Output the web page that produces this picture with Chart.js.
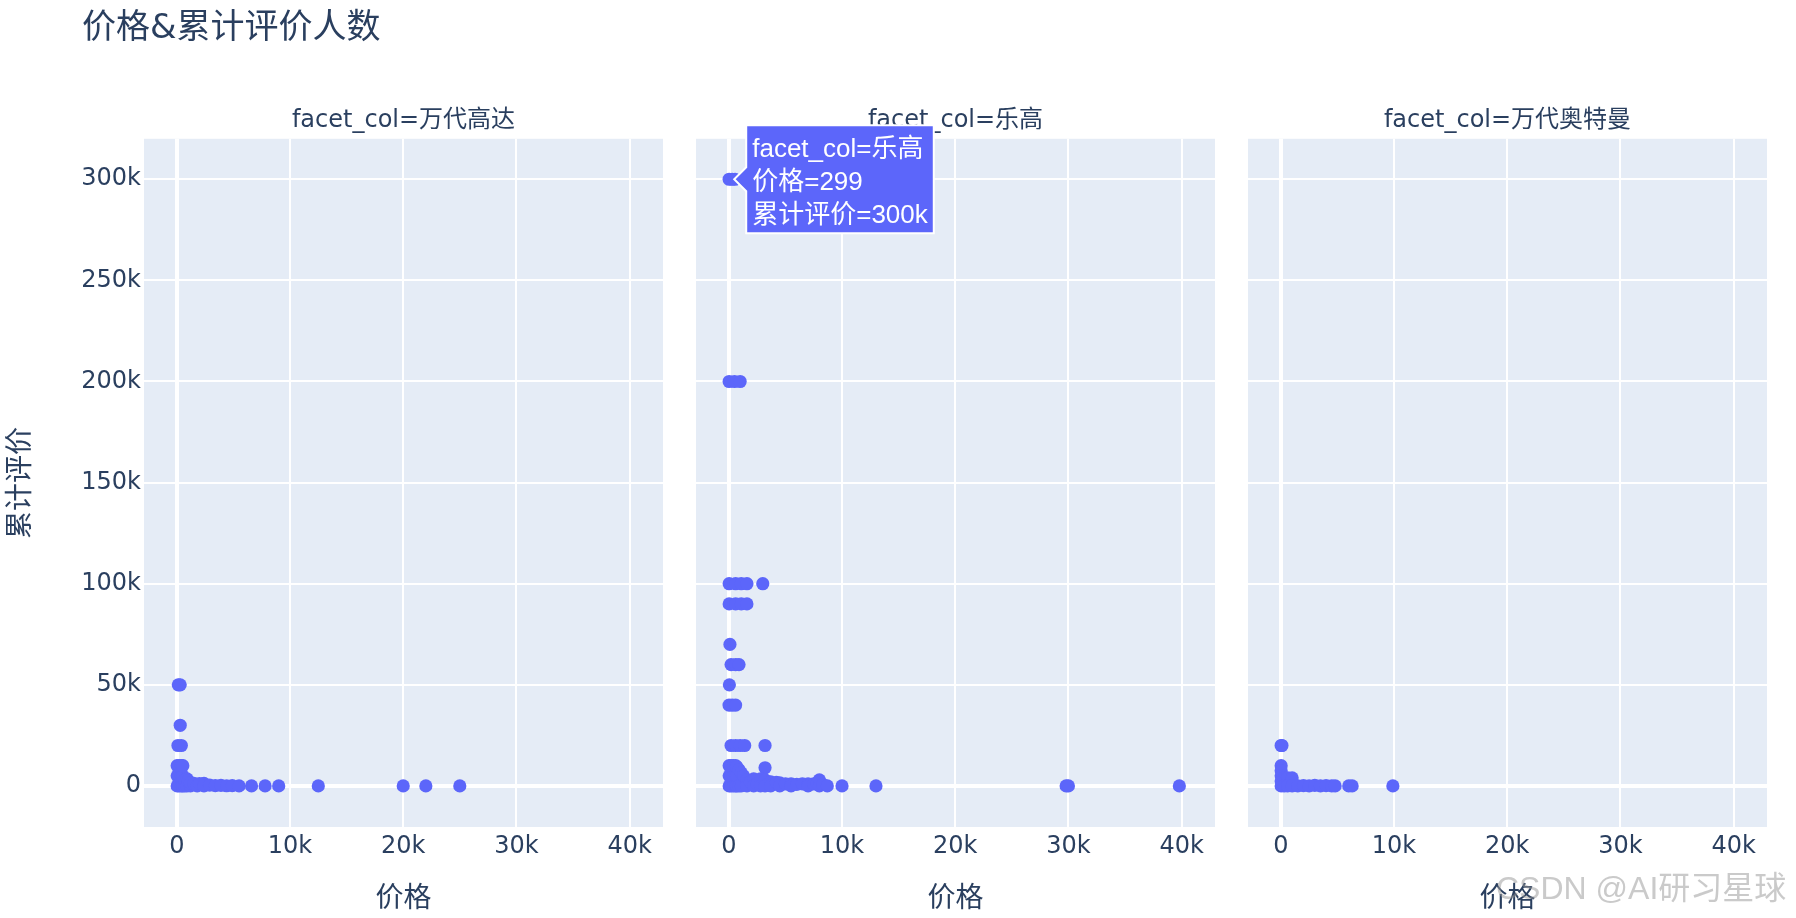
<!DOCTYPE html>
<html>
<head>
<meta charset="utf-8">
<title>价格&累计评价人数</title>
<script src="https://cdn.jsdelivr.net/npm/chart.js"></script>
<style>
  body { margin: 0; background: #fff; }
  #wrap { position: relative; width: 1796px; height: 918px; overflow: hidden; }
  canvas { position: absolute; left: 0; top: 0; }
  #title {
    position: absolute; left: 82px; top: 9px;
    font: 34px/34px "DejaVu Sans", "Noto Sans CJK SC", sans-serif;
    color: #2a3f5f; white-space: nowrap;
  }
  #mark {
    position: absolute; left: 1496px; top: 870px;
    font: 32px/36px "Liberation Sans", "Noto Sans CJK SC", sans-serif;
    color: rgba(150, 150, 150, 0.5); white-space: nowrap;
  }
</style>
</head>
<body>
<div id="wrap">
  <canvas id="c1" width="1796" height="918"></canvas>
  <canvas id="c2" width="1796" height="918"></canvas>
  <canvas id="c3" width="1796" height="918"></canvas>
  <div id="title">价格&amp;累计评价人数</div>
  <div id="mark">CSDN @AI研习星球</div>
</div>
<script>
// 数据: 价格 / 累计评价
var facets = ['万代高达', '乐高', '万代奥特曼'];

var gundamPrice = [129, 299, 299, 99, 399,
  29, 29, 29, 199, 199, 199, 399, 399, 399, 529, 529, 529,
  699, 699, 899, 899, 999, 1199, 1199, 1499, 1799, 1999, 2399, 2399,
  2899, 3399, 3899, 4399, 4899, 5499,
  6599, 7799, 8999, 12499, 19999, 21999, 24999];
var gundamReviews = [50000, 50000, 30000, 20000, 20000,
  0, 5000, 10000, 0, 5000, 10000, 0, 5000, 10000, 0, 5000, 10000,
  0, 3000, 0, 3500, 2500, 0, 1500, 1300, 0, 1200, 1300, 0,
  400, 200, 300, 100, 200, 0,
  0, 0, 0, 0, 0, 0, 0];

var legoPrice = [29, 299, 549, 29, 499, 999,
  29, 599, 1099, 1599, 2999, 29, 599, 1099, 1599,
  99, 199, 599, 899, 49, 19, 299, 599,
  199, 599, 999, 1399, 3199, 3199,
  29, 29, 29, 199, 199, 199, 399, 399, 399, 599, 599, 599, 699, 699, 699,
  899, 899, 1099, 1099, 1299, 1599, 1599, 1899, 2199, 2199, 2499, 2799, 2799,
  3199, 3199, 3699, 3699, 4199, 4499, 4499, 4999, 5499, 5499, 5999, 6499,
  6999, 6999, 7499, 7799, 7999, 7999, 8299, 8699,
  9999, 12999, 29799, 29999, 39799];
var legoReviews = [300000, 300000, 300000, 200000, 200000, 200000,
  100000, 100000, 100000, 100000, 100000, 90000, 90000, 90000, 90000,
  70000, 60000, 60000, 60000, 50000, 40000, 40000, 40000,
  20000, 20000, 20000, 20000, 20000, 9000,
  0, 5000, 10000, 0, 5000, 10000, 0, 5000, 10000, 0, 5000, 10000, 0, 5000, 9500,
  8000, 0, 6500, 0, 5000, 3000, 0, 2000, 3500, 0, 1000, 3500, 0,
  3000, 0, 2000, 0, 1800, 1500, 0, 1000, 1000, 0, 800, 1000,
  1000, 0, 1000, 1500, 3000, 0, 800, 0,
  0, 0, 0, 0, 0];

var ultramanPrice = [29, 99, 29, 29, 29, 29, 29, 299, 599, 999, 299, 599, 999,
  1499, 1999, 2499, 2999, 3499, 3999, 4499, 4799, 5999, 6299, 9899];
var ultramanReviews = [20000, 20000, 10000, 7500, 5000, 2500, 0, 4000, 4000, 4000, 0, 0, 0,
  0, 200, 0, 300, 0, 200, 0, 0, 0, 0, 0];

var xTicks = [0, 10000, 20000, 30000, 40000];
var yTicks = [0, 50000, 100000, 150000, 200000, 250000, 300000];
var xMin = -2900, xMax = 42950;
var yMin = -20300, yMax = 320000;

// 悬停标签
var hoverPoint = { facet: '乐高', x: 299, y: 300000 };

// 布局
var panelLeft = [144, 696, 1248];
var panelRight = [663, 1215, 1767];
var textColor = '#2a3f5f';
var markerColor = '#5c66fa';

Chart.defaults.font.family = '"DejaVu Sans", "Noto Sans CJK SC", sans-serif';
Chart.defaults.color = textColor;

function fmtK(v) {
  return v === 0 ? '0' : (v / 1000) + 'k';
}

var plotBg = {
  id: 'plotBg',
  beforeDraw: function(chart) {
    var a = chart.chartArea, ctx = chart.ctx;
    ctx.save();
    ctx.fillStyle = '#e5ecf6';
    ctx.fillRect(a.left, a.top, a.right - a.left, a.bottom - a.top);
    ctx.restore();
  }
};

var hoverLabel = {
  id: 'hoverLabel',
  afterDraw: function(chart) {
    var px = chart.scales.x.getPixelForValue(hoverPoint.x);
    var py = chart.scales.y.getPixelForValue(hoverPoint.y);
    var lines = ['facet_col=' + hoverPoint.facet, '价格=' + hoverPoint.x, '累计评价=' + fmtK(hoverPoint.y)];
    var ctx = chart.ctx;
    ctx.save();
    ctx.font = '26px "Liberation Sans", "Noto Sans CJK SC", sans-serif';
    var w = Math.max.apply(null, lines.map(function(t) { return ctx.measureText(t).width; })) + 12;
    var lh = 33, h = lines.length * lh + 9;
    var tipX = px + 2, bx = tipX + 12, top = py - h / 2;
    ctx.beginPath();
    ctx.moveTo(tipX, py);
    ctx.lineTo(bx, py - 12);
    ctx.lineTo(bx, top);
    ctx.lineTo(bx + w, top);
    ctx.lineTo(bx + w, top + h);
    ctx.lineTo(bx, top + h);
    ctx.lineTo(bx, py + 12);
    ctx.closePath();
    ctx.fillStyle = markerColor;
    ctx.fill();
    ctx.strokeStyle = '#fff';
    ctx.lineWidth = 2;
    ctx.stroke();
    ctx.fillStyle = '#fff';
    ctx.textBaseline = 'middle';
    lines.forEach(function(t, i) {
      ctx.fillText(t, bx + 6, py + 3.5 + (i - 1) * lh);
    });
    ctx.restore();
  }
};

function gridWidth(c) {
  return c.tick && c.tick.value === 0 ? 4 : 2;
}

function makePanel(id, idx, prices, reviews, extra) {
  var first = idx === 0;
  return new Chart(document.getElementById(id), {
    type: 'scatter',
    data: {
      datasets: [{
        data: prices.map(function(p, i) { return { x: p, y: reviews[i] }; }),
        backgroundColor: markerColor,
        borderWidth: 0,
        pointRadius: 6.6,
        pointHoverRadius: 6.6
      }]
    },
    options: {
      responsive: false,
      animation: false,
      devicePixelRatio: 1,
      events: [],
      layout: {
        padding: { left: first ? 0 : panelLeft[idx], right: 1796 - panelRight[idx], top: 0, bottom: 0 }
      },
      plugins: {
        legend: { display: false },
        tooltip: { enabled: false },
        title: {
          display: true,
          text: 'facet_col=' + facets[idx],
          fullSize: false,
          color: textColor,
          font: { size: 24, weight: 'normal' },
          padding: { top: 106, bottom: 4 }
        }
      },
      scales: {
        x: {
          type: 'linear',
          min: xMin,
          max: xMax,
          afterBuildTicks: function(s) { s.ticks = xTicks.map(function(v) { return { value: v }; }); },
          afterFit: function(s) { s.height = 91; },
          grid: { color: '#fff', lineWidth: gridWidth, drawTicks: false },
          border: { display: false },
          ticks: { padding: 5.6, font: { size: 24 }, maxRotation: 0, autoSkip: false, callback: fmtK },
          title: { display: true, text: '价格', font: { size: 28 }, padding: { top: 0, bottom: 1 } }
        },
        y: {
          type: 'linear',
          min: yMin,
          max: yMax,
          afterBuildTicks: function(s) { s.ticks = yTicks.map(function(v) { return { value: v }; }); },
          afterFit: function(s) { s.width = first ? panelLeft[0] : 0; },
          grid: { color: '#fff', lineWidth: gridWidth, drawTicks: false },
          border: { display: false },
          ticks: { display: first, padding: 3, font: { size: 24 }, callback: fmtK },
          title: { display: first, text: '累计评价', font: { size: 28 }, padding: { top: 5, bottom: 0 } }
        }
      }
    },
    plugins: extra ? [plotBg, extra] : [plotBg]
  });
}

makePanel('c1', 0, gundamPrice, gundamReviews);
makePanel('c2', 1, legoPrice, legoReviews, hoverLabel);
makePanel('c3', 2, ultramanPrice, ultramanReviews);
</script>
</body>
</html>
